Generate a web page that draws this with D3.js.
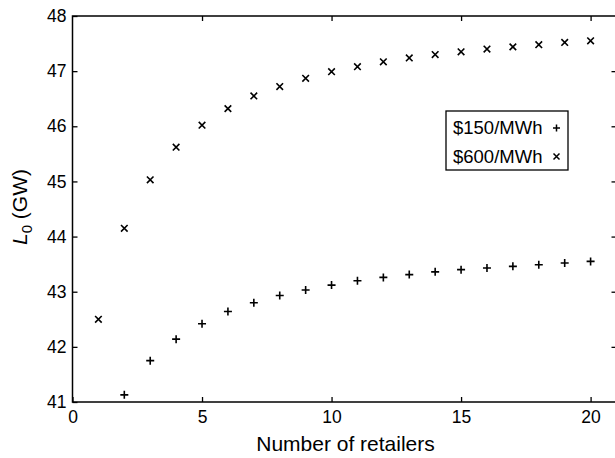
<!DOCTYPE html>
<html>
<head>
<meta charset="utf-8">
<script src="https://cdn.jsdelivr.net/npm/d3@7"></script>
<style>
  html, body { margin: 0; padding: 0; background: #fff; }
  svg { display: block; }
  text { font-family: "Liberation Sans", Arial, Helvetica, sans-serif; fill: #000; }
</style>
</head>
<body>
<svg id="chart" width="615" height="458"></svg>
<script>
// Equilibrium load L0 versus the number of competing retailers
const retailers = d3.range(1, 21);
const load150 = [null, 41.13, 41.75, 42.14, 42.42, 42.64, 42.80, 42.93, 43.03, 43.12,
                 43.20, 43.26, 43.31, 43.36, 43.40, 43.43, 43.46, 43.49, 43.52, 43.55];
const load600 = [42.50, 44.15, 45.03, 45.62, 46.02, 46.32, 46.55, 46.72, 46.87, 46.99,
                 47.08, 47.17, 47.24, 47.30, 47.35, 47.40, 47.44, 47.48, 47.52, 47.55];
const xTicks = [0, 5, 10, 15, 20];
const yTicks = [41, 42, 43, 44, 45, 46, 47, 48];
const legendLabels = ["$150/MWh", "$600/MWh"];

const svg = d3.select("#chart");
const plotL = 72.5, plotR = 616.5, plotT = 16, plotB = 402;

const x = d3.scaleLinear().domain([0, 21]).range([plotL, plotR]);
const y = d3.scaleLinear().domain([41, 48]).range([plotB, plotT]);

const tickLen = 5;
const axisStyle = g => {
  g.select(".domain").remove();
  g.selectAll(".tick line").attr("stroke", "#000").attr("stroke-width", 1.3);
  g.selectAll(".tick text").style("font-size", "17.5px").attr("fill", "#000");
};

// bottom axis (ticks point into the plot)
svg.append("g").attr("transform", `translate(0,${plotB})`)
  .call(d3.axisBottom(x).tickValues(xTicks).tickSizeInner(-tickLen).tickSizeOuter(0).tickPadding(9))
  .call(axisStyle);
// top axis ticks
svg.append("g").attr("transform", `translate(0,${plotT})`)
  .call(d3.axisTop(x).tickValues(xTicks.slice(1)).tickSizeInner(-tickLen).tickSizeOuter(0).tickFormat(""))
  .call(axisStyle);
// left axis
svg.append("g").attr("transform", `translate(${plotL},0)`)
  .call(d3.axisLeft(y).tickValues(yTicks).tickSizeInner(-tickLen).tickSizeOuter(0).tickPadding(6).tickFormat(d3.format("d")))
  .call(axisStyle);
// right axis ticks
svg.append("g").attr("transform", `translate(${plotR},0)`)
  .call(d3.axisRight(y).tickValues(yTicks.slice(1, -1)).tickSizeInner(-tickLen).tickSizeOuter(0).tickFormat(""))
  .call(axisStyle);

// frame
svg.append("rect")
  .attr("x", plotL).attr("y", plotT)
  .attr("width", plotR - plotL).attr("height", plotB - plotT)
  .attr("fill", "none").attr("stroke", "#000").attr("stroke-width", 1.5);

// markers
const plusPath = s => `M${-s},0H${s}M0,${-s}V${s}`;
const crossPath = s => `M${-s},${-s}L${s},${s}M${-s},${s}L${s},${-s}`;

const pts150 = retailers.map((r, i) => ({ r, v: load150[i] })).filter(d => d.v != null);
const pts600 = retailers.map((r, i) => ({ r, v: load600[i] }));

svg.append("g").selectAll("path").data(pts150).join("path")
  .attr("transform", d => `translate(${x(d.r)},${y(d.v)})`)
  .attr("d", plusPath(4))
  .attr("stroke", "#000").attr("stroke-width", 1.6).attr("fill", "none");

svg.append("g").selectAll("path").data(pts600).join("path")
  .attr("transform", d => `translate(${x(d.r)},${y(d.v)})`)
  .attr("d", crossPath(3.3))
  .attr("stroke", "#000").attr("stroke-width", 1.6).attr("fill", "none");

// legend
const lg = svg.append("g").attr("transform", "translate(446,111)");
lg.append("rect").attr("width", 122).attr("height", 59)
  .attr("fill", "#fff").attr("stroke", "#000").attr("stroke-width", 1.3);
legendLabels.forEach((lab, i) => {
  const cy = 16.5 + i * 28.5;
  lg.append("text").attr("x", 7).attr("y", cy + 6.5).style("font-size", "18.5px").text(lab);
  lg.append("path")
    .attr("transform", `translate(${110.5},${cy + 0.5})`)
    .attr("d", i === 0 ? plusPath(3.5) : crossPath(3))
    .attr("stroke", "#000").attr("stroke-width", 1.5).attr("fill", "none");
});

// axis titles
svg.append("text").attr("x", 345.5).attr("y", 451)
  .attr("text-anchor", "middle").style("font-size", "21px").text("Number of retailers");

const yt = svg.append("text").attr("transform", "translate(27,207) rotate(-90)")
  .attr("text-anchor", "middle").style("font-size", "21px");
yt.append("tspan").style("font-style", "italic").text("L");
yt.append("tspan").attr("dy", 5).style("font-size", "15px").text("0");
yt.append("tspan").attr("dy", -5).text(" (GW)");
</script>
</body>
</html>
